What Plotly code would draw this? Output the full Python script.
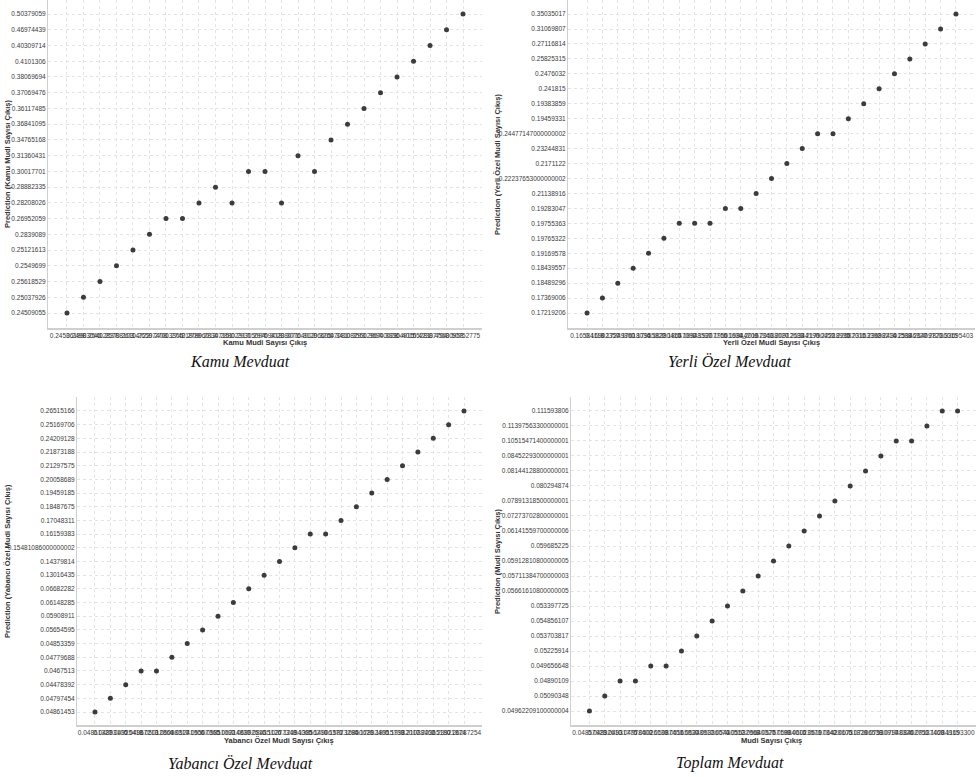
import plotly.graph_objects as go

W, H = 979, 777

# ---------------- data ----------------
kamu_x = ["0.24536189", "0.24983046", "0.25412837", "0.25788103", "0.26114722", "0.26597408",
          "0.27013365", "0.27421809", "0.27896012", "0.28347151", "0.28802317", "0.29315094",
          "0.29769418", "0.30238071", "0.30764912", "0.31296605", "0.32647081", "0.34108293",
          "0.35512967", "0.36940028", "0.38364915", "0.40155281", "0.42387704", "0.45630958",
          "0.50752775"]
kamu_levels = ["0.24509055", "0.25037926", "0.25618529", "0.2549699", "0.25121613", "0.2839089",
               "0.26952059", "0.28208026", "0.28882335", "0.30017701", "0.31360431", "0.34765168",
               "0.36841095", "0.36117485", "0.37069476", "0.38069694", "0.4101306", "0.40309714",
               "0.46974439", "0.50379059"]
kamu_y = ["0.24509055", "0.25037926", "0.25618529", "0.2549699", "0.25121613", "0.2839089",
          "0.26952059", "0.26952059", "0.28208026", "0.28882335", "0.28208026", "0.30017701",
          "0.30017701", "0.28208026", "0.31360431", "0.30017701", "0.34765168", "0.36841095",
          "0.36117485", "0.37069476", "0.38069694", "0.4101306", "0.40309714", "0.46974439",
          "0.50379059"]

yerli_x = ["0.16584118", "0.16902357", "0.17249860", "0.17618034", "0.17955822", "0.18290415",
           "0.18647092", "0.18948537", "0.19207716", "0.19501634", "0.19844209", "0.20167341",
           "0.20538027", "0.20912683", "0.21344190", "0.21790452", "0.22218935", "0.22687011",
           "0.23153392", "0.23698214", "0.24301588", "0.25146327", "0.26409721", "0.28736015",
           "0.33695403"]
yerli_levels = ["0.17219206", "0.17369006", "0.18489296", "0.18439557", "0.19169578", "0.19765322",
                "0.19755363", "0.19283047", "0.21138916", "0.22237653000000002", "0.2171122",
                "0.23244831", "0.24477147000000002", "0.19459331", "0.19383859", "0.241815",
                "0.2476032", "0.25825315", "0.27116814", "0.31069807", "0.35035017"]
yerli_y = ["0.17219206", "0.17369006", "0.18489296", "0.18439557", "0.19169578", "0.19765322",
           "0.19755363", "0.19755363", "0.19755363", "0.19283047", "0.19283047", "0.21138916",
           "0.22237653000000002", "0.2171122", "0.23244831", "0.24477147000000002",
           "0.24477147000000002", "0.19459331", "0.19383859", "0.241815", "0.2476032",
           "0.25825315", "0.27116814", "0.31069807", "0.35035017"]

yab_x = ["0.04861327", "0.04893105", "0.04925418", "0.04967213", "0.05012864", "0.05098317",
         "0.05241906", "0.05507365", "0.05851092", "0.06214837", "0.06892516", "0.08435126",
         "0.10277348", "0.12194065", "0.13856210", "0.14906371", "0.15873294", "0.16850621",
         "0.17892405", "0.18915733", "0.19982017", "0.21038462", "0.22365180", "0.23921874",
         "0.26287254"]
yab_levels = ["0.04861453", "0.04797454", "0.04478392", "0.0467513", "0.04779688", "0.04853359",
              "0.05654595", "0.05908911", "0.06148285", "0.06682282", "0.13016435", "0.14379814",
              "0.15481086000000002", "0.16159383", "0.17048311", "0.18487675", "0.19459185",
              "0.20058689", "0.21297575", "0.21873188", "0.24209128", "0.25169706", "0.26515166"]
yab_y = ["0.04861453", "0.04797454", "0.04478392", "0.0467513", "0.0467513", "0.04779688",
         "0.04853359", "0.05654595", "0.05908911", "0.06148285", "0.06682282", "0.13016435",
         "0.14379814", "0.15481086000000002", "0.16159383", "0.16159383", "0.17048311",
         "0.18487675", "0.19459185", "0.20058689", "0.21297575", "0.21873188", "0.24209128",
         "0.25169706", "0.26515166"]

top_x = ["0.04857923", "0.04892610", "0.04931775", "0.04978402", "0.05026139", "0.05087451",
         "0.05165830", "0.05248917", "0.05336074", "0.05430512", "0.05532968", "0.05640327",
         "0.05757199", "0.05884016", "0.06023571", "0.06197342", "0.06428105", "0.06731829",
         "0.07106538", "0.07530917", "0.07948326", "0.08402751", "0.09137460", "0.10284915",
         "0.11693300"]
top_levels = ["0.04962209100000004", "0.05090348", "0.04890109", "0.049656648", "0.05225914",
              "0.053703817", "0.054856107", "0.053397725", "0.05661610800000005",
              "0.05711384700000003", "0.05912810800000005", "0.059685225", "0.06141559700000006",
              "0.07273702800000001", "0.07891318500000001", "0.080294874", "0.08144128800000001",
              "0.08452293000000001", "0.10515471400000001", "0.11397563300000001", "0.111593806"]
top_y = ["0.04962209100000004", "0.05090348", "0.04890109", "0.04890109", "0.049656648",
         "0.049656648", "0.05225914", "0.053703817", "0.054856107", "0.053397725",
         "0.05661610800000005", "0.05711384700000003", "0.05912810800000005", "0.059685225",
         "0.06141559700000006", "0.07273702800000001", "0.07891318500000001", "0.080294874",
         "0.08144128800000001", "0.08452293000000001", "0.10515471400000001",
         "0.10515471400000001", "0.11397563300000001", "0.111593806", "0.111593806"]

panels = [
    dict(x=kamu_x, y=kamu_y, levels=kamu_levels, xt="Kamu Mudi Sayısı Çıkış",
         yt="Prediction (Kamu Mudi Sayısı Çıkış)", cap="Kamu Mevduat"),
    dict(x=yerli_x, y=yerli_y, levels=yerli_levels, xt="Yerli Özel Mudi Sayısı Çıkış",
         yt="Prediction (Yerli Özel Mudi Sayısı Çıkış)", cap="Yerli Özel Mevduat"),
    dict(x=yab_x, y=yab_y, levels=yab_levels, xt="Yabancı Özel Mudi Sayısı Çıkış",
         yt="Prediction (Yabancı Özel Mudi Sayısı Çıkış)", cap="Yabancı Özel Mevduat"),
    dict(x=top_x, y=top_y, levels=top_levels, xt="Mudi Sayısı Çıkış",
         yt="Prediction (Mudi Sayısı Çıkış)", cap="Toplam Mevduat"),
]

# ---------------- layout geometry (pixels) ----------------
geo = [
    dict(l=48, r=482, t=0, b=328, xpad=1.15, ylo=0.95, yhi=0.89, ytx=7, xtx=265, xty=343, capx=240, capy=361),
    dict(l=568, r=975, t=0, b=328, xpad=1.24, ylo=1.0, yhi=0.94, ytx=497, xty=343, xtx=771, capx=730, capy=361),
    dict(l=77, r=482, t=397, b=725, xpad=1.17, ylo=0.95, yhi=1.02, ytx=7, xty=740, xtx=279, capx=240, capy=763),
    dict(l=571, r=976, t=397, b=725, xpad=1.2, ylo=0.93, yhi=0.93, ytx=497, xty=740, xtx=771, capx=730, capy=763),
]

tickfont = dict(family="Liberation Sans Narrow, Liberation Sans, Arial", size=6.5, color="#3a3a3a")
titlefont = dict(family="Liberation Sans, Arial", size=7.5, color="#333333")
capfont = dict(family="Liberation Serif, Times New Roman, serif", size=16, color="#111111")

fig = go.Figure()
annotations = []
for i, (p, g) in enumerate(zip(panels, geo)):
    n = i + 1
    xa = "x" if n == 1 else f"x{n}"
    ya = "y" if n == 1 else f"y{n}"
    fig.add_trace(go.Scatter(
        x=p["x"], y=p["y"], mode="markers", xaxis=xa, yaxis=ya,
        marker=dict(size=5, color="#3c3c3c"), showlegend=False, cliponaxis=False))
    nx = len(p["x"])
    nl = len(p["levels"])
    axx = dict(
        domain=[g["l"] / W, g["r"] / W], anchor=ya, type="category",
        categoryorder="array", categoryarray=p["x"],
        range=[-g["xpad"], nx - 1 + g["xpad"]],
        tickmode="array", tickvals=p["x"], ticktext=p["x"], tickangle=0,
        tickfont=tickfont, showgrid=True, gridcolor="#e4e4e4", griddash="dot", gridwidth=1,
        showline=True, linecolor="#cfcfcf", linewidth=2, ticks="", zeroline=False,
        fixedrange=True)
    axy = dict(
        domain=[1 - g["b"] / H, 1 - g["t"] / H], anchor=xa, type="category",
        categoryorder="array", categoryarray=p["levels"],
        range=[-g["ylo"], nl - 1 + g["yhi"]],
        tickmode="array", tickvals=p["levels"], ticktext=p["levels"],
        tickfont=tickfont, showgrid=True, gridcolor="#e4e4e4", griddash="dot", gridwidth=1,
        showline=True, linecolor="#cfcfcf", linewidth=1, ticks="", zeroline=False,
        fixedrange=True)
    fig.layout["xaxis" if n == 1 else f"xaxis{n}"] = axx
    fig.layout["yaxis" if n == 1 else f"yaxis{n}"] = axy

    annotations.append(dict(
        text=f"<b>{p['xt']}</b>", x=g["xtx"] / W, y=1 - g["xty"] / H, xref="paper", yref="paper",
        showarrow=False, font=titlefont, xanchor="center", yanchor="middle"))
    annotations.append(dict(
        text=f"<b>{p['yt']}</b>", x=g["ytx"] / W, y=1 - (g["t"] + g["b"]) / 2 / H,
        xref="paper", yref="paper", textangle=-90, showarrow=False, font=titlefont,
        xanchor="center", yanchor="middle"))
    annotations.append(dict(
        text=f"<i>{p['cap']}</i>", x=g["capx"] / W, y=1 - g["capy"] / H, xref="paper",
        yref="paper", showarrow=False, font=capfont, xanchor="center", yanchor="middle"))

fig.update_layout(
    width=W, height=H, margin=dict(l=0, r=0, t=0, b=0),
    paper_bgcolor="white", plot_bgcolor="white",
    annotations=annotations,
    hovermode=False,
)

fig.write_html("out.html", config={"displayModeBar": False, "staticPlot": True},
               post_script="document.body.style.margin='0';document.body.style.padding='0';")
